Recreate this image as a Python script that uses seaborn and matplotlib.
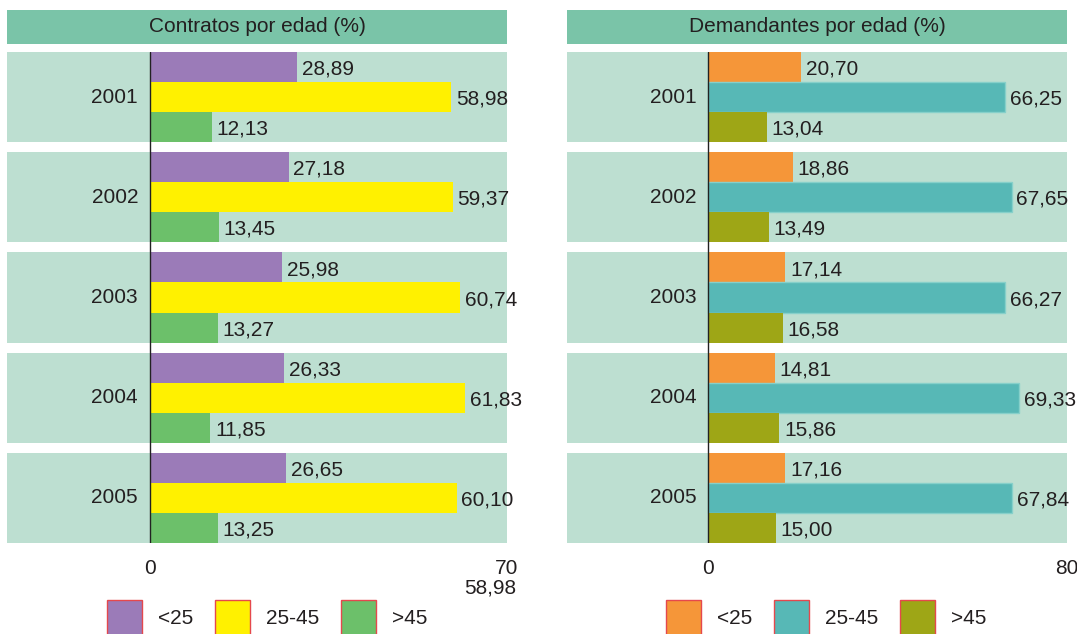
import matplotlib.pyplot as plt
import pandas as pd
import seaborn as sns
from matplotlib.patches import Rectangle

years = ["2001", "2002", "2003", "2004", "2005"]
age_groups = ["<25", "25-45", ">45"]

contratos_menor25 = [28.89, 27.18, 25.98, 26.33, 26.65]
contratos_25_45 = [58.98, 59.37, 60.74, 61.83, 60.10]
contratos_mayor45 = [12.13, 13.45, 13.27, 11.85, 13.25]

demandantes_menor25 = [20.70, 18.86, 17.14, 14.81, 17.16]
demandantes_25_45 = [66.25, 67.65, 66.27, 69.33, 67.84]
demandantes_mayor45 = [13.04, 13.49, 16.58, 15.86, 15.00]

HEADER = "#7ac4a8"
ROW_BG = "#bddfd1"
TEXT = "#231f20"
FS = 15

W, H = 1077, 634
AX_TOP, AX_BOTTOM = 52, 543


def long_df(*series):
    rows = []
    for group, values in zip(age_groups, series):
        for year, v in zip(years, values):
            rows.append({"year": year, "group": group, "value": v})
    return pd.DataFrame(rows)


def fmt(v):
    return f"{v:.2f}".replace(".", ",")


def draw_panel(fig, left_px, right_px, series, colors, title, xmin, xmax,
               legend_x, extra_label=None, edge_colors=None):
    ax_h = AX_BOTTOM - AX_TOP
    ax = fig.add_axes([left_px / W, 1 - AX_BOTTOM / H,
                       (right_px - left_px) / W, ax_h / H])
    df = long_df(*series)
    sns.barplot(data=df, y="year", x="value", hue="group", order=years,
                hue_order=age_groups, palette=colors, orient="h", width=0.9,
                saturation=1, linewidth=0, ax=ax)
    for i in range(len(years)):
        ax.axhspan(i - 0.45, i + 0.45, color=ROW_BG, lw=0, zorder=0)
    for k, (cont, values) in enumerate(zip(ax.containers, series)):
        if edge_colors and edge_colors[k]:
            for p in cont.patches:
                p.set_edgecolor(edge_colors[k])
                p.set_linewidth(1)
        anns = ax.bar_label(cont, labels=[fmt(v) for v in values], padding=3.5,
                            fontsize=FS, color=TEXT)
        for a in anns:
            a.xyann = (3.5, -1.5)
    for i, y in enumerate(years):
        ax.annotate(y, xy=(0, i), xytext=(-12, 0), textcoords="offset pixels",
                    ha="right", va="center", fontsize=FS, color=TEXT)
    ax.axvline(0, color="#222222", lw=1, zorder=3)
    ax.set_xlim(xmin, xmax)
    ax.set_ylim(4.45, -0.45)
    ax.set_xticks([0, xmax])
    ax.set_xticklabels(["0", str(xmax)])
    ax.tick_params(axis="x", length=0, pad=11.5, labelsize=FS, labelcolor=TEXT)
    ax.tick_params(axis="y", left=False, labelleft=False)
    ax.set_xlabel("")
    ax.set_ylabel("")
    for s in ax.spines.values():
        s.set_visible(False)
    ax.patch.set_alpha(0)

    # header bar
    ax.add_patch(Rectangle((0, 1 + 8 / ax_h), 1, 34 / ax_h,
                           transform=ax.transAxes, facecolor=HEADER, lw=0,
                           clip_on=False))
    ax.text(0.5, 1 + 25 / ax_h, title, transform=ax.transAxes, ha="center",
            va="center", fontsize=FS, color=TEXT)

    if extra_label:
        ax.annotate(extra_label, xy=(xmax, 0), xycoords=("data", "axes fraction"),
                    xytext=(9, -35), textcoords="offset pixels", ha="right",
                    va="top", fontsize=FS, color=TEXT)

    sns.move_legend(ax, "upper left", bbox_to_anchor=(legend_x / W, 1 - 600 / H),
                    bbox_transform=fig.transFigure, ncol=3, frameon=False,
                    title=None, fontsize=FS, handlelength=1.68,
                    handleheight=2.2, handletextpad=0.77, columnspacing=1.03,
                    borderpad=0, borderaxespad=0)
    leg = ax.get_legend()
    for h in leg.get_patches():
        h.set_edgecolor("#e5484d")
        h.set_linewidth(1)
    for t in leg.get_texts():
        t.set_color(TEXT)
    return ax


sns.set_theme(style="white")
plt.rcParams["font.family"] = ["Liberation Sans", "DejaVu Sans"]

fig = plt.figure(figsize=(10.77, 6.34), dpi=100)

draw_panel(fig, 7, 507,
           [contratos_menor25, contratos_25_45, contratos_mayor45],
           ["#9b7bb8", "#fff100", "#6cc06a"],
           "Contratos por edad (%)", -28.04, 70, legend_x=107,
           extra_label="58,98")

draw_panel(fig, 567, 1067,
           [demandantes_menor25, demandantes_25_45, demandantes_mayor45],
           ["#f59639", "#57b8b6", "#9ea616"],
           "Demandantes por edad (%)", -31.5, 80, legend_x=666,
           edge_colors=[None, "#86d0ca", None])

fig.savefig("out.png", dpi=100)
